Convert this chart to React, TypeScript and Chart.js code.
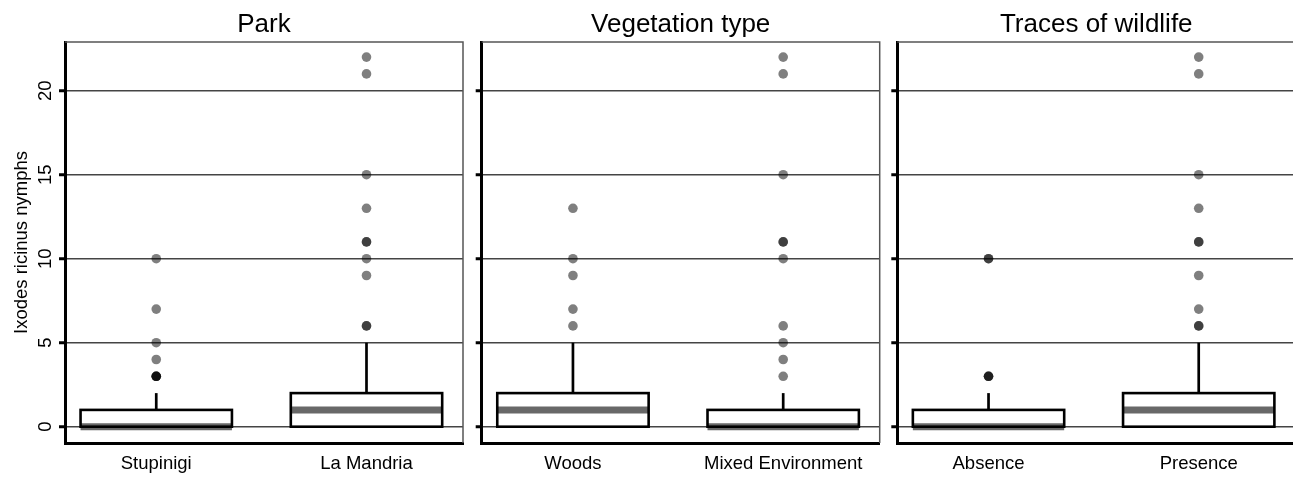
import React, { useEffect, useRef } from "react";
import { Chart, registerables } from "chart.js";

Chart.register(...registerables);

// ---------------- data ----------------
const panelTitles = ["Park", "Vegetation type", "Traces of wildlife"];
const categories = [
  ["Stupinigi", "La Mandria"],
  ["Woods", "Mixed Environment"],
  ["Absence", "Presence"],
];
const lowerWhiskers = [[0, 0], [0, 0], [0, 0]];
const lowerQuartiles = [[0, 0], [0, 0], [0, 0]];
const medians = [[0, 1], [1, 0], [0, 1]];
const upperQuartiles = [[1, 2], [2, 1], [1, 2]];
const upperWhiskers = [[2, 5], [5, 2], [2, 5]];
// outlier observations (repeated values overlap and look darker)
const outliersPark = [
  [3, 3, 3, 3, 4, 5, 7, 10],
  [6, 6, 9, 10, 11, 11, 13, 15, 21, 22],
];
const outliersVegetation = [
  [6, 7, 9, 10, 13],
  [3, 4, 5, 6, 10, 11, 11, 15, 21, 22],
];
const outliersWildlife = [
  [3, 3, 3, 10, 10],
  [6, 6, 7, 9, 11, 11, 13, 15, 21, 22],
];
const outliers = [outliersPark, outliersVegetation, outliersWildlife];
const yTicks = [0, 5, 10, 15, 20];
const yAxisTitle = "Ixodes ricinus nymphs";

// ---------------- style / layout ----------------
const FONT = "'Liberation Sans', Arial, Helvetica, sans-serif";
const H = 477;
const panelLefts = [0, 470, 888];
const canvasWidths = [470, 418, 412];
const yAxisWidths = [65, 11.7, 9.3];
const rightPads = [7, 8.3, 4.7];
const X_MIN = 0.566;
const X_MAX = 2.459;
const Y_MIN = -0.97;
const Y_MAX = 22.9;
const BOX_HALF = 0.36;

function makeBoxPlugin(p: number) {
  return {
    id: "boxes" + p,
    beforeDatasetsDraw(chart: any) {
      const { ctx } = chart;
      const x = chart.scales.x;
      const y = chart.scales.y;
      ctx.save();
      ctx.lineCap = "butt";
      for (let i = 0; i < categories[p].length; i++) {
        const c = i + 1;
        const cx = x.getPixelForValue(c);
        const l = x.getPixelForValue(c - BOX_HALF);
        const r = x.getPixelForValue(c + BOX_HALF);
        const yq1 = y.getPixelForValue(lowerQuartiles[p][i]);
        const yq3 = y.getPixelForValue(upperQuartiles[p][i]);
        const ym = y.getPixelForValue(medians[p][i]);
        const ylw = y.getPixelForValue(lowerWhiskers[p][i]);
        const yuw = y.getPixelForValue(upperWhiskers[p][i]);
        // whiskers
        ctx.strokeStyle = "#000";
        ctx.lineWidth = 2.7;
        ctx.beginPath();
        ctx.moveTo(cx, yq3);
        ctx.lineTo(cx, yuw);
        ctx.moveTo(cx, yq1);
        ctx.lineTo(cx, ylw);
        ctx.stroke();
        // box fill
        ctx.fillStyle = "#fff";
        ctx.fillRect(l, yq3, r - l, yq1 - yq3);
        // median
        ctx.strokeStyle = "#686868";
        ctx.lineWidth = 7;
        ctx.beginPath();
        ctx.moveTo(l, ym);
        ctx.lineTo(r, ym);
        ctx.stroke();
        // box outline
        ctx.strokeStyle = "#000";
        ctx.lineWidth = 2.6;
        ctx.strokeRect(l, yq3, r - l, yq1 - yq3);
      }
      ctx.restore();
    },
    afterDraw(chart: any) {
      const { ctx, chartArea } = chart;
      const y = chart.scales.y;
      ctx.save();
      // thin top / right frame
      ctx.strokeStyle = "#555";
      ctx.lineWidth = 1.5;
      ctx.beginPath();
      ctx.moveTo(chartArea.left, chartArea.top);
      ctx.lineTo(chartArea.right, chartArea.top);
      ctx.lineTo(chartArea.right, chartArea.bottom);
      ctx.stroke();
      // rotated y tick labels on first panel
      if (p === 0) {
        ctx.fillStyle = "#000";
        ctx.font = `18.5px ${FONT}`;
        ctx.textAlign = "center";
        ctx.textBaseline = "middle";
        for (const v of yTicks) {
          const py = y.getPixelForValue(v);
          ctx.save();
          ctx.translate(chartArea.left - 19, py);
          ctx.rotate(-Math.PI / 2);
          ctx.fillText(String(v), 0, 0);
          ctx.restore();
        }
      }
      ctx.restore();
    },
  };
}

function Panel({ p }: { p: number }) {
  const ref = useRef<HTMLCanvasElement | null>(null);
  useEffect(() => {
    if (!ref.current) return;
    const points: { x: number; y: number }[] = [];
    outliers[p].forEach((vals, i) => {
      vals.forEach((v) => points.push({ x: i + 1, y: v }));
    });
    const chart = new Chart(ref.current, {
      type: "scatter",
      data: {
        datasets: [
          {
            data: points,
            pointRadius: 4.8,
            pointHoverRadius: 4.8,
            pointBorderWidth: 0,
            pointBackgroundColor: "rgba(0,0,0,0.5)",
            backgroundColor: "rgba(0,0,0,0.5)",
            borderColor: "rgba(0,0,0,0)",
          },
        ],
      },
      options: {
        animation: false,
        responsive: false,
        devicePixelRatio: 1,
        events: [],
        layout: { padding: { left: 0, right: rightPads[p], top: 0, bottom: 0 } },
        plugins: {
          legend: { display: false },
          tooltip: { enabled: false },
          title: {
            display: true,
            text: panelTitles[p],
            fullSize: false,
            color: "#000",
            font: { family: FONT, size: 26, weight: "normal" },
            padding: { top: 9, bottom: 1.8 },
          },
        },
        scales: {
          x: {
            type: "linear",
            min: X_MIN,
            max: X_MAX,
            afterBuildTicks: (s: any) => {
              s.ticks = categories[p].map((_, i) => ({ value: i + 1 }));
            },
            afterFit: (s: any) => {
              s.height = 34;
            },
            ticks: {
              callback: (_v: any, i: number) => categories[p][i],
              color: "#000",
              font: { family: FONT, size: 18.5 },
              padding: 10.3,
              maxRotation: 0,
              minRotation: 0,
              autoSkip: false,
            },
            grid: { display: false, drawTicks: false },
            border: { display: true, color: "#000", width: 3 },
          },
          y: {
            type: "linear",
            min: Y_MIN,
            max: Y_MAX,
            afterBuildTicks: (s: any) => {
              s.ticks = yTicks.map((v) => ({ value: v }));
            },
            afterFit: (s: any) => {
              s.width = yAxisWidths[p];
            },
            ticks: { display: false },
            grid: {
              color: "#444",
              lineWidth: 1.5,
              drawTicks: true,
              tickLength: 6,
              tickWidth: 3,
              tickColor: "#000",
            },
            border: { display: true, color: "#000", width: 3 },
            title:
              p === 0
                ? {
                    display: true,
                    text: yAxisTitle,
                    color: "#000",
                    font: { family: FONT, size: 18.5 },
                    padding: { top: 11, bottom: 0 },
                  }
                : { display: false },
          },
        },
      } as any,
      plugins: [makeBoxPlugin(p)],
    });
    return () => chart.destroy();
  }, [p]);
  return (
    <div
      style={{
        position: "absolute",
        left: panelLefts[p],
        top: 0,
        width: canvasWidths[p],
        height: H,
      }}
    >
      <canvas
        ref={ref}
        width={canvasWidths[p]}
        height={H}
        style={{ display: "block", width: canvasWidths[p], height: H }}
      />
    </div>
  );
}

export default function App() {
  return (
    <div
      style={{
        position: "fixed",
        left: 0,
        top: 0,
        width: 1293,
        height: H,
        overflow: "hidden",
        background: "#fff",
      }}
    >
      {[0, 1, 2].map((p) => (
        <Panel key={p} p={p} />
      ))}
    </div>
  );
}
